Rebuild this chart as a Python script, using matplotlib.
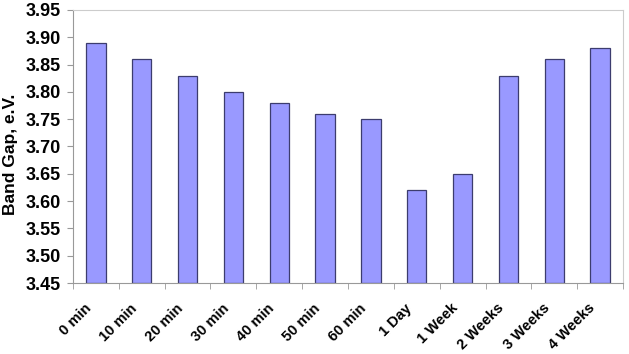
import numpy as np
import matplotlib.pyplot as plt
import matplotlib.transforms as mtransforms

# data
categories = ["0 min", "10 min", "20 min", "30 min", "40 min", "50 min",
              "60 min", "1 Day", "1 Week", "2 Weeks", "3 Weeks", "4 Weeks"]
band_gap = [3.89, 3.86, 3.83, 3.80, 3.78, 3.76, 3.75, 3.62, 3.65, 3.83, 3.86, 3.88]
y_ticks = [3.45, 3.50, 3.55, 3.60, 3.65, 3.70, 3.75, 3.80, 3.85, 3.90, 3.95]

plt.rcParams['font.family'] = ['Liberation Sans', 'DejaVu Sans']

fig = plt.figure(figsize=(6.29, 3.54), dpi=100)
ax = fig.add_axes([73 / 629, 1 - 283 / 354, 550 / 629, 273 / 354])

x = np.arange(len(categories))
base = y_ticks[0]
ax.bar(x, np.array(band_gap) - base, bottom=base, width=0.42,
       color="#9999FF", edgecolor="#3c3c6e", linewidth=0.9, zorder=2)

ax.set_xlim(-0.5, len(categories) - 0.5)
ax.set_ylim(y_ticks[0], y_ticks[-1])
ax.set_yticks(y_ticks)
ax.set_yticklabels([f"{v:.2f}" for v in y_ticks], fontsize=13, fontweight="bold")

ax.set_xticks(x)
ax.set_xticklabels(categories, rotation=45, ha="right", va="top",
                   fontsize=10.5, fontweight="bold")
ax.tick_params(axis="x", which="major", length=0, pad=13)
shift = mtransforms.ScaledTranslation(-2 / 100, 0, fig.dpi_scale_trans)
for lbl in ax.get_xticklabels():
    lbl.set_transform(lbl.get_transform() + shift)

ax.set_xticks(np.arange(-0.5, len(categories) + 0.5, 1), minor=True)
ax.tick_params(axis="x", which="minor", length=4, color="#999999", direction="out")
ax.tick_params(axis="y", length=4, color="#999999", pad=5)

ax.set_ylabel("Band Gap, e.V.", fontsize=12.5, fontweight="bold")
ax.yaxis.set_label_coords(-0.1, 0.47)

for side in ["left", "bottom"]:
    ax.spines[side].set_color("#999999")
for side in ["top", "right"]:
    ax.spines[side].set_color("#cccccc")

fig.savefig("out.png", dpi=100)
